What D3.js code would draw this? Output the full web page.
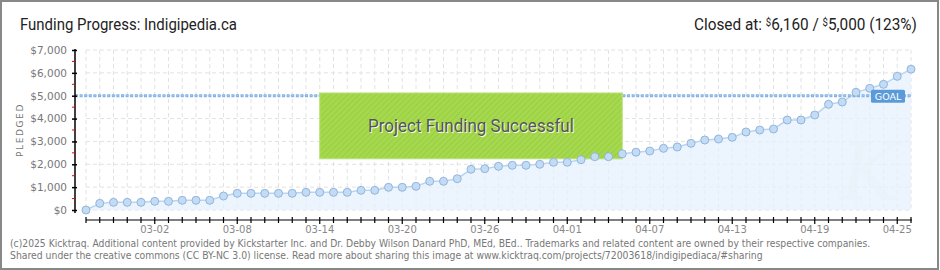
<!DOCTYPE html>
<html>
<head>
<meta charset="utf-8">
<script src="https://cdn.jsdelivr.net/npm/d3@7"></script>
<style>
  body { margin: 0; background: #fff; }
  svg { display: block; }
</style>
</head>
<body>
<svg id="chart"></svg>
<script>
// data: one point per day, 02-25 .. 04-26
const startDate = '2025-02-25'
const pledged = [
  0, 290, 335, 335, 335, 380, 380, 425, 425, 425,
  612, 729, 729, 729, 729, 729, 773, 773, 773, 773,
  861, 861, 993, 993, 1037, 1256, 1256, 1369, 1781, 1807,
  1912, 1956, 1956, 2000, 2087, 2087, 2200, 2332, 2332, 2460,
  2530, 2581, 2698, 2756, 2917, 3062, 3106, 3179, 3412, 3500,
  3544, 3937, 3937, 4156, 4623, 4725, 5148, 5323, 5498, 5848,
  6160
]
const goal = 5000
const yTicks = [0, 1000, 2000, 3000, 4000, 5000, 6000, 7000]
const xTickLabels = ['03-02', '03-08', '03-14', '03-20', '03-26', '04-01', '04-07', '04-13', '04-19', '04-25']

const W = 940
const H = 270
const margin = { top: 50, left: 86, right: 29, bottom: 60 }

const svg = d3.select('#chart').attr('width', W).attr('height', H)

/// parse time ////////////////////////////////
const parseDate = d3.timeParse('%Y-%m-%d')
const fmtDay = d3.timeFormat('%m-%d')
const t0 = parseDate(startDate)
const data = pledged.map((v, i) => ({ date: d3.timeDay.offset(t0, i), value: v }))

/// scales ////////////////////////////////
const xScale = d3.scaleTime()
  .domain(d3.extent(data, d => d.date))
  .range([margin.left, W - margin.right])
const yScale = d3.scaleLinear().domain([0, 7000]).range([210, 50])

// squeeze a text horizontally so it spans the given width
function fitWidth(sel, x, width, anchor) {
  const natural = sel.node().getComputedTextLength()
  const k = Math.min(1, width / natural)
  const left = anchor === 'end' ? x - width : x
  sel.attr('x', 0).attr('text-anchor', 'start')
    .attr('transform', `translate(${left},${sel.attr('y')}) scale(${k},1)`)
    .attr('y', 0)
}

// frame
svg.append('rect')
  .attr('x', 1).attr('y', 1).attr('width', W - 3).attr('height', H - 2)
  .attr('fill', '#fff').attr('stroke', '#888').attr('stroke-width', 2)

// stripe pattern for the success box
const defs = svg.append('defs')
const pat = defs.append('pattern')
  .attr('id', 'stripes').attr('width', 4).attr('height', 4)
  .attr('patternUnits', 'userSpaceOnUse')
  .attr('patternTransform', 'rotate(-45)')
pat.append('rect').attr('width', 4).attr('height', 4).attr('fill', '#a6da4e')
pat.append('rect').attr('width', 4).attr('height', 1.5).attr('fill', '#9ccf45')

/// grid ////////////////////////////////
const x0 = xScale.range()[0]
const x1 = xScale.range()[1]
svg.append('g')
  .selectAll('line')
  .data(data)
  .join('line')
  .attr('x1', d => xScale(d.date)).attr('x2', d => xScale(d.date))
  .attr('y1', yScale(7000)).attr('y2', yScale(0))
  .attr('stroke', '#e2e2e2').attr('stroke-dasharray', '4,3')

svg.append('g')
  .selectAll('line')
  .data(yTicks)
  .join('line')
  .attr('x1', x0).attr('x2', x1)
  .attr('y1', d => yScale(d)).attr('y2', d => yScale(d))
  .attr('stroke', '#e2e2e2').attr('stroke-dasharray', '4,3')

/// area + line ////////////////////////////////
svg.append('path')
  .datum(data)
  .attr('d', d3.area().x(d => xScale(d.date)).y0(yScale(0)).y1(d => yScale(d.value)))
  .attr('fill', '#e6f0fc').attr('opacity', 0.75)

// faint watermark
svg.append('text')
  .attr('x', 870).attr('y', 200)
  .attr('text-anchor', 'middle')
  .attr('font-family', 'DejaVu Serif, serif')
  .attr('font-style', 'italic')
  .attr('font-size', 80)
  .attr('fill', '#e9f0f7').attr('opacity', 0.35)
  .text('K')

svg.append('path')
  .datum(data)
  .attr('d', d3.line().x(d => xScale(d.date)).y(d => yScale(d.value)))
  .attr('fill', 'none').attr('stroke', '#b9d5f3').attr('stroke-width', 1.5)

/// goal line ////////////////////////////////
svg.append('line')
  .attr('x1', 75).attr('x2', x1)
  .attr('y1', yScale(goal)).attr('y2', yScale(goal))
  .attr('stroke', '#7eb0e4').attr('stroke-width', 3).attr('stroke-dasharray', '3,1.6')
svg.append('line')
  .attr('x1', 75).attr('x2', x1)
  .attr('y1', yScale(goal)).attr('y2', yScale(goal))
  .attr('stroke', '#a9cbf0').attr('stroke-width', 1).attr('stroke-dasharray', '1.6,3')
  .attr('stroke-dashoffset', -0.7)

/// success box ////////////////////////////////
const boxL = xScale(d3.timeDay.offset(t0, 17.3))
const boxR = xScale(d3.timeDay.offset(t0, 39.2))
svg.append('rect')
  .attr('x', boxL).attr('y', yScale(5120))
  .attr('width', boxR - boxL).attr('height', yScale(2240) - yScale(5120))
  .attr('fill', 'url(#stripes)').attr('stroke', '#b8e27a').attr('stroke-width', 1)
const boxText = svg.append('g')
  .attr('font-family', 'Roboto, "Noto Sans", sans-serif')
  .attr('font-size', 18)
const boxMid = (boxL + boxR) / 2
const bt1 = boxText.append('text')
  .attr('y', 133).attr('fill', '#f4fbe8')
  .text('Project Funding Successful')
fitWidth(bt1, boxMid - 102, 206)
const bt2 = boxText.append('text')
  .attr('y', 132).attr('fill', '#555')
  .text('Project Funding Successful')
fitWidth(bt2, boxMid - 103, 206)

/// points ////////////////////////////////
svg.append('g')
  .selectAll('circle')
  .data(data)
  .join('circle')
  .attr('cx', d => xScale(d.date))
  .attr('cy', d => yScale(d.value))
  .attr('r', 4)
  .attr('fill', '#c3dcf6')
  .attr('stroke', '#94b4da')
  .attr('stroke-width', 1)

/// goal label ////////////////////////////////
svg.append('rect')
  .attr('x', 871).attr('y', yScale(goal) - 6)
  .attr('width', 34).attr('height', 13).attr('rx', 1.5)
  .attr('fill', '#5b9ad8')
svg.append('text')
  .attr('x', 888).attr('y', yScale(goal) + 4)
  .attr('text-anchor', 'middle')
  .attr('font-family', 'DejaVu Sans, sans-serif')
  .attr('font-size', 9.5)
  .attr('fill', '#fff')
  .text('GOAL')

/// y axis ////////////////////////////////
const yAxis = svg.append('g')
  .attr('transform', 'translate(75,0)')
  .call(d3.axisLeft(yScale).tickValues(yTicks).tickSize(3).tickPadding(5)
    .tickFormat(d => '$' + d3.format(',')(d)))
yAxis.select('.domain').attr('d', 'M0,' + (yScale(7000) - 1) + 'V' + (yScale(0) + 3))
  .attr('stroke', '#000').attr('stroke-width', 1.5)
yAxis.selectAll('.tick line').attr('x2', -3).attr('x1', 2).attr('stroke', '#000').attr('stroke-width', 1.5)
yAxis.selectAll('.tick text')
  .attr('font-family', 'DejaVu Sans, sans-serif').attr('font-size', 10.5).attr('fill', '#777')
svg.append('g')
  .selectAll('line')
  .data(yTicks.slice(0, -1).map(d => d + 500))
  .join('line')
  .attr('x1', 72).attr('x2', 75)
  .attr('y1', d => yScale(d)).attr('y2', d => yScale(d))
  .attr('stroke', '#e00').attr('stroke-width', 1)

svg.append('text')
  .attr('transform', 'translate(23,130) rotate(-90)')
  .attr('text-anchor', 'middle')
  .attr('font-family', 'DejaVu Sans, sans-serif')
  .attr('font-size', 9)
  .attr('letter-spacing', 1.6)
  .attr('fill', '#777')
  .text('PLEDGED')

/// x axis ////////////////////////////////
const xAxis = svg.append('g').attr('transform', 'translate(0,220)')
xAxis.append('line')
  .attr('x1', x0).attr('x2', x1 + 1)
  .attr('stroke', '#000').attr('stroke-width', 1.2)
xAxis.selectAll('.day')
  .data(data)
  .join('line')
  .attr('class', 'day')
  .attr('x1', d => xScale(d.date)).attr('x2', d => xScale(d.date))
  .attr('y1', -3).attr('y2', d => xTickLabels.includes(fmtDay(d.date)) ? 4 : 3)
  .attr('stroke', '#000').attr('stroke-width', 1.2)
xAxis.selectAll('.lbl')
  .data(data.filter(d => xTickLabels.includes(fmtDay(d.date))))
  .join('text')
  .attr('class', 'lbl')
  .attr('x', d => xScale(d.date)).attr('y', 13)
  .attr('text-anchor', 'middle')
  .attr('font-family', 'DejaVu Sans, sans-serif').attr('font-size', 10)
  .attr('fill', '#888')
  .text(d => fmtDay(d.date))

/// titles ////////////////////////////////
const title = svg.append('text')
  .attr('y', 30)
  .attr('font-family', 'Roboto, "Noto Sans", sans-serif').attr('font-size', 16)
  .attr('fill', '#222')
  .text('Funding Progress: Indigipedia.ca')
fitWidth(title, 20, 217)

const closed = svg.append('text')
  .attr('y', 30)
  .attr('font-family', 'Roboto, "Noto Sans", sans-serif').attr('font-size', 16)
  .attr('fill', '#222')
closed.append('tspan').text('Closed at:  ')
closed.append('tspan').attr('font-size', 10).attr('dy', -4).text('$')
closed.append('tspan').attr('dy', 4).text('6,160 /  ')
closed.append('tspan').attr('font-size', 10).attr('dy', -4).text('$')
closed.append('tspan').attr('dy', 4).text('5,000 (123%)')
fitWidth(closed, 917, 223, 'end')

/// footer ////////////////////////////////
const foot = svg.append('g')
  .attr('font-family', 'DejaVu Sans, sans-serif').attr('font-size', 10.5).attr('fill', '#777')
const f1 = foot.append('text').attr('y', 247)
  .text('(c)2025 Kicktraq. Additional content provided by Kickstarter Inc. and Dr. Debby Wilson Danard PhD, MEd, BEd.. Trademarks and related content are owned by their respective companies.')
fitWidth(f1, 10, 861)
const f2 = foot.append('text').attr('y', 259)
  .text('Shared under the creative commons (CC BY-NC 3.0) license. Read more about sharing this image at www.kicktraq.com/projects/72003618/indigipediaca/#sharing')
fitWidth(f2, 10, 753)
</script>
</body>
</html>
